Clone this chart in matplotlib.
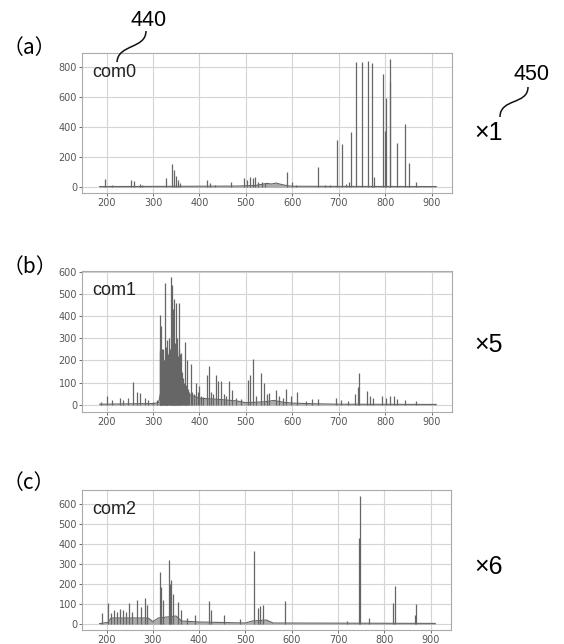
import numpy as np
import matplotlib
matplotlib.use('Agg')
import matplotlib.pyplot as plt
from matplotlib.path import Path
from matplotlib.patches import PathPatch

# peak positions (nm) and heights
com0_wl = [196, 212, 253, 258, 271, 277, 328, 340, 345, 349, 353, 359, 416, 423, 434,
           469, 495, 502, 509, 515, 520, 526, 534, 541, 588, 600, 609, 655, 671, 682,
           696, 706, 716, 722, 727, 738, 750, 763, 772, 777, 795, 800, 801, 810, 811,
           826, 842, 852, 866]
com0_h = [51, 10, 47, 40, 20, 15, 58, 151, 113, 70, 47, 29, 47, 24, 15,
          31, 58, 47, 64, 58, 69, 35, 30, 25, 102, 35, 15, 135, 10, 10,
          313, 284, 20, 30, 369, 835, 835, 841, 828, 69, 753, 370, 590, 700, 850,
          290, 420, 158, 31]
com0_base_wl = [185, 300, 480, 520, 535, 545, 555, 565, 575, 590, 600, 700, 910]
com0_base = [3, 4, 6, 10, 18, 24, 20, 26, 18, 8, 5, 4, 3]

com1_wl = [189, 200, 211, 229, 236, 246, 257, 266, 271, 282, 289, 300, 308,
           314, 315, 316, 317, 318, 319, 321, 322, 324, 326, 327, 328, 330, 331, 333,
           334, 336, 338, 339, 341, 342, 343, 344, 346, 347, 348, 350, 351, 352, 353,
           355, 356, 357, 358, 361, 362, 364, 366, 368, 370, 372, 374, 376, 378, 382,
           385, 388, 393, 396, 399, 403, 408, 416, 420, 425, 430, 436, 441, 446, 452,
           458, 464, 471, 478, 490, 504, 509, 516, 522, 532, 539, 545, 550, 564, 572,
           580, 586, 597, 611, 629, 643, 656, 694, 705, 720, 735, 742, 744, 760, 768,
           773, 793, 802, 811, 820, 825, 842, 867]
com1_h = [15, 38, 23, 33, 23, 30, 102, 56, 53, 30, 23, 15, 20,
          240, 250, 403, 230, 357, 250, 210, 250, 200, 547, 260, 220, 294, 240, 230,
          300, 250, 578, 260, 538, 300, 240, 430, 475, 280, 240, 460, 300, 240, 220,
          460, 250, 200, 230, 234, 150, 120, 100, 282, 90, 80, 204, 70, 60, 185,
          60, 50, 98, 60, 83, 40, 35, 136, 173, 60, 50, 136, 106, 106, 50,
          40, 106, 68, 30, 25, 113, 136, 207, 40, 143, 98, 50, 53, 68, 40,
          30, 71, 40, 56, 18, 26, 26, 33, 21, 18, 48, 79, 144, 61, 41,
          33, 41, 33, 41, 41, 26, 21, 18]
com1_base_wl = [185, 300, 312, 318, 360, 400, 440, 480, 500, 540, 560, 580, 600, 650, 700, 910]
com1_base = [3, 6, 10, 70, 60, 30, 25, 18, 10, 14, 20, 12, 8, 5, 3, 2]

com2_wl = [191, 204, 210, 216, 223, 229, 236, 241, 248, 256, 265, 274, 282, 288,
           315, 318, 322, 334, 337, 339, 343, 355, 361, 373, 391, 422, 425, 453, 488,
           518, 527, 531, 538, 586, 720, 745, 747, 767, 818, 822, 866, 868]
com2_h = [57, 107, 55, 70, 62, 73, 70, 62, 107, 60, 120, 87, 128, 95,
          262, 187, 120, 320, 200, 220, 150, 112, 70, 28, 45, 117, 70, 45, 23,
          367, 78, 90, 95, 117, 15, 428, 642, 28, 103, 190, 45, 100]
com2_base_wl = [185, 203, 210, 290, 300, 312, 350, 362, 400, 440, 500, 515, 545, 560, 910]
com2_base = [2, 8, 30, 30, 12, 30, 40, 15, 10, 8, 5, 15, 20, 5, 3]

W, H = 564, 644
line_col = '#666666'


def px_rect(left, top, right, bottom):
    # pixel box -> figure fraction rect
    return [left / W, 1 - bottom / H, (right - left) / W, (bottom - top) / H]


def draw_spectrum(ax, wl, h, base_wl, base, ylim, yticks, name):
    ax.fill_between(base_wl, 0, base, color=line_col, lw=0, alpha=0.55)
    ax.plot(base_wl, base, color=line_col, lw=0.8)
    ax.vlines(wl, 0, h, color=line_col, lw=0.9)
    ax.set_xlim(147, 944)
    ax.set_ylim(*ylim)
    ax.set_xticks([200, 300, 400, 500, 600, 700, 800, 900])
    ax.set_yticks(yticks)
    ax.grid(True, color='#d4d4d4', lw=0.8)
    ax.set_axisbelow(True)
    for s in ax.spines.values():
        s.set_color('#aaaaaa')
        s.set_linewidth(0.8)
    ax.tick_params(labelsize=7, colors='#555555', length=2, width=0.6, pad=1.5)
    ax.text(0.027, 0.86, name, transform=ax.transAxes, fontsize=13,
            color='#222222', va='center', family='Liberation Sans')


def leader(fig, pts):
    # S-shaped lead line in pixel coords
    verts = [(x / W, 1 - y / H) for x, y in pts]
    path = Path(verts, [Path.MOVETO, Path.CURVE4, Path.CURVE4, Path.CURVE4])
    fig.patches.append(PathPatch(path, fc='none', ec='#111111', lw=1.1,
                                 transform=fig.transFigure))


def main():
    fig = plt.figure(figsize=(5.64, 6.44), dpi=100)

    ax0 = fig.add_axes(px_rect(82, 53, 452, 193))
    draw_spectrum(ax0, com0_wl, com0_h, com0_base_wl, com0_base,
                  (-40, 893), [0, 200, 400, 600, 800], 'com0')
    ax1 = fig.add_axes(px_rect(82, 271, 452, 412))
    draw_spectrum(ax1, com1_wl, com1_h, com1_base_wl, com1_base,
                  (-32, 603), [0, 100, 200, 300, 400, 500, 600], 'com1')
    ax2 = fig.add_axes(px_rect(82, 490, 451, 630))
    draw_spectrum(ax2, com2_wl, com2_h, com2_base_wl, com2_base,
                  (-30, 670), [0, 100, 200, 300, 400, 500, 600], 'com2')

    cjk = ['Noto Sans CJK JP', 'DejaVu Sans']
    for label, y in [('（a）', 48), ('（b）', 267), ('（c）', 483)]:
        fig.text(3 / W, 1 - y / H, label, fontsize=15, family=cjk, va='center', ha='left')
    for label, y in [('×1', 133), ('×5', 345), ('×6', 567)]:
        fig.text(489 / W, 1 - y / H, label, fontsize=18, family='Liberation Sans',
                 va='center', ha='center')
    fig.text(149 / W, 1 - 20 / H, '440', fontsize=15.5, family='Liberation Sans',
             va='center', ha='center')
    fig.text(531 / W, 1 - 75 / H, '450', fontsize=15.5, family='Liberation Sans',
             va='center', ha='center')
    leader(fig, [(146, 31), (146, 49), (118, 44), (117, 62)])
    leader(fig, [(528, 87), (528, 105), (500, 98), (500, 117)])

    fig.savefig('out.png', dpi=100)


if __name__ == "__main__":
    main()
